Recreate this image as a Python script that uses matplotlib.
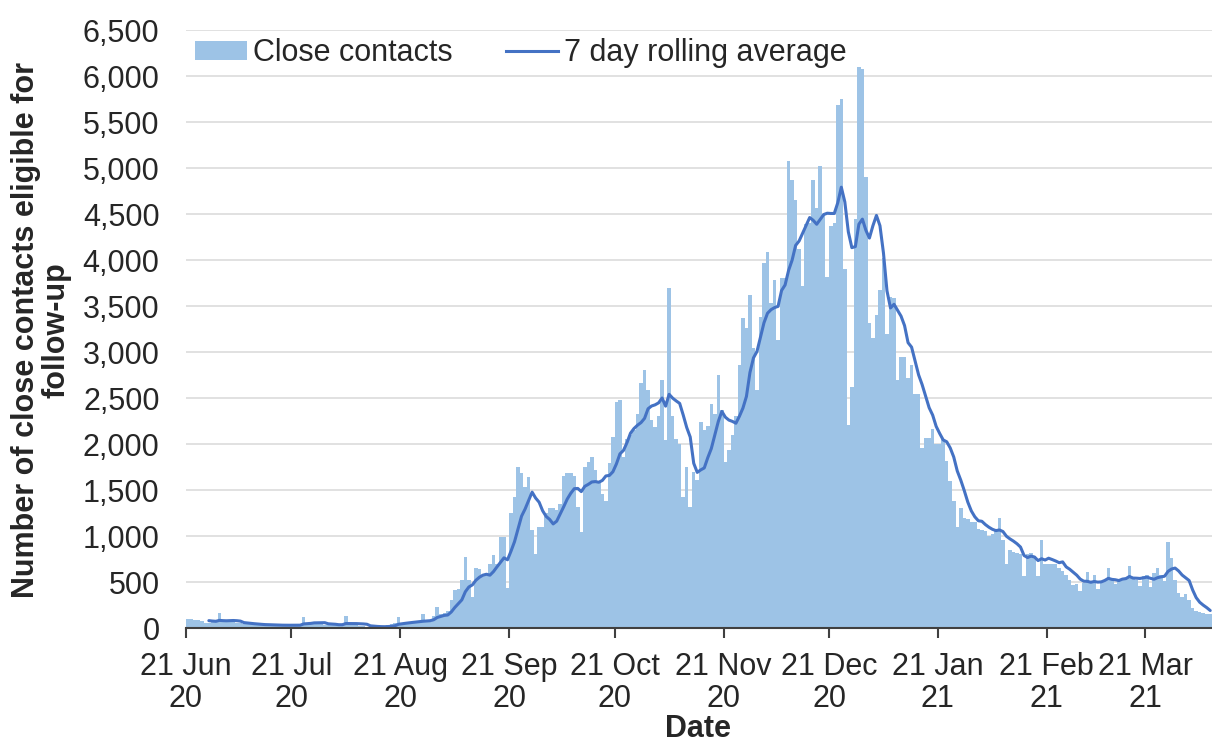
import matplotlib
matplotlib.use('Agg')
import matplotlib.pyplot as plt
import numpy as np
import pandas as pd
from matplotlib.patches import Patch
from matplotlib.lines import Line2D

plt.rcParams['font.family'] = ['Liberation Sans', 'DejaVu Sans']

# ---------------- data ----------------
start_date = '2020-06-21'

# daily number of close contacts eligible for follow-up
close_contacts = [
    100, 100, 90, 90, 80, 50, 50,
    70, 80, 160, 70, 70, 60, 60,
    55, 50, 45, 40, 40, 35, 35,
    35, 30, 35, 30, 30, 25, 30,
    30, 30, 35, 35, 30, 120, 50,
    50, 70, 40, 40, 35, 35, 30,
    35, 35, 40, 130, 35, 30, 30,
    25, 20, 15, 10, 10, 10, 15,
    20, 30, 40, 50, 120, 50, 50,
    55, 60, 70, 80, 150, 70, 70,
    130, 230, 150, 160, 180, 300, 410,
    420, 520, 770, 520, 340, 650, 640,
    580, 590, 700, 790, 700, 990, 990,
    430, 1250, 1420, 1750, 1680, 1530, 1640,
    1070, 800, 1100, 1100, 1250, 1300, 1300,
    1280, 1350, 1650, 1680, 1690, 1650, 1320,
    1040, 1750, 1800, 1860, 1720, 1600, 1460,
    1380, 1790, 2080, 2460, 2480, 1860, 2050,
    2100, 2150, 2330, 2660, 2800, 2590, 2260,
    2190, 2300, 2700, 2040, 3700, 2300, 2050,
    2000, 1420, 1750, 1310, 1700, 1610, 2240,
    2150, 2200, 2440, 2330, 2750, 2370, 1800,
    1930, 2100, 2300, 2860, 3370, 3260, 3620,
    3040, 2590, 3380, 3970, 4090, 3530, 3780,
    3130, 3800, 3800, 5080, 4870, 4650, 4120,
    3720, 4390, 4400, 4870, 4570, 5020, 4490,
    3820, 4370, 4400, 5690, 5750, 3900, 2210,
    2620, 4450, 6100, 6080, 4900, 3310, 3150,
    3400, 3670, 4020, 3200, 3600, 3590, 2700,
    2950, 2950, 2720, 2860, 2540, 2540, 1960,
    2070, 2070, 2160, 2000, 2000, 2050, 1820,
    1600, 1380, 1100, 1300, 1200, 1180, 1150,
    1150, 1080, 1060, 1050, 1000, 1020, 1050,
    1200, 960, 700, 850, 830, 820, 800,
    560, 800, 810, 780, 560, 960, 700,
    700, 700, 700, 650, 620, 580, 520,
    470, 480, 400, 490, 610, 510, 580,
    420, 500, 510, 650, 530, 480, 520,
    530, 540, 670, 530, 520, 460, 570,
    580, 450, 600, 650, 580, 510, 940,
    760, 520, 380, 340, 370, 300, 220,
    180, 170, 160, 150, 150,
]

tick_dates = ['2020-06-21', '2020-07-21', '2020-08-21', '2020-09-21',
              '2020-10-21', '2020-11-21', '2020-12-21', '2021-01-21',
              '2021-02-21', '2021-03-21']
tick_labels = ['21 Jun\n20', '21 Jul\n20', '21 Aug\n20', '21 Sep\n20',
               '21 Oct\n20', '21 Nov\n20', '21 Dec\n20', '21 Jan\n21',
               '21 Feb\n21', '21 Mar\n21']
y_ticks = list(range(0, 6501, 500))

series_names = ['Close contacts', '7 day rolling average']

# ---------------- plot ----------------
bar_color = '#9DC3E6'
line_color = '#4472C4'
text_color = '#262626'

x = np.arange(len(close_contacts))
rolling = pd.Series(close_contacts).rolling(7).mean()
t0 = pd.Timestamp(start_date)
tick_pos = [(pd.Timestamp(d) - t0).days - 0.5 for d in tick_dates]

W, H = 1212, 746
fig = plt.figure(figsize=(W / 100, H / 100), dpi=100)
ax = fig.add_axes([186 / W, (H - 628) / H, 1026 / W, 598 / H])

ax.bar(x, close_contacts, width=1.0, color=bar_color, linewidth=0, zorder=2)
ax.plot(x, rolling, color=line_color, lw=2.2, zorder=3, solid_capstyle='round',
        solid_joinstyle='round')

ax.set_xlim(-0.5, 291.5)
ax.set_ylim(0, 6500)
ax.set_yticks(y_ticks)
ax.set_yticklabels([f'{v:,}' for v in y_ticks])
ax.set_xticks(tick_pos)
ax.set_xticklabels(tick_labels, linespacing=1.1)

ax.yaxis.grid(True, color='#d9d9d9', lw=1.1, zorder=0)
ax.set_axisbelow(True)
for s in ['top', 'right', 'left']:
    ax.spines[s].set_visible(False)
ax.spines['bottom'].set_color('#404040')
ax.spines['bottom'].set_linewidth(1.5)
ax.spines['bottom'].set_zorder(4)

ax.tick_params(axis='x', length=7, width=1.5, color='#404040', pad=10,
               labelsize=22, labelcolor=text_color)
ax.tick_params(axis='y', length=0, pad=19, labelsize=22, labelcolor=text_color)

handles = [Patch(facecolor=bar_color, edgecolor='none'),
           Line2D([], [], color=line_color, lw=2.2)]
fig.legend(handles, series_names, loc='center left',
           bbox_to_anchor=(195 / W, 1 - 53 / H), bbox_transform=fig.transFigure,
           ncol=2, frameon=False, fontsize=22, handlelength=1.7,
           handleheight=0.6, handletextpad=0.2, columnspacing=1.75,
           borderpad=0, borderaxespad=0, labelcolor=text_color)

fig.text(41 / W, 1 - 330 / H, 'Number of close contacts eligible for\nfollow-up',
         rotation=90, ha='center', va='center', fontsize=22, fontweight='bold',
         linespacing=1.0, multialignment='center', color=text_color)
fig.text(698 / W, 1 - 744 / H, 'Date', ha='center', va='bottom', fontsize=22,
         fontweight='bold', color=text_color)

fig.savefig('out.png', dpi=100)
